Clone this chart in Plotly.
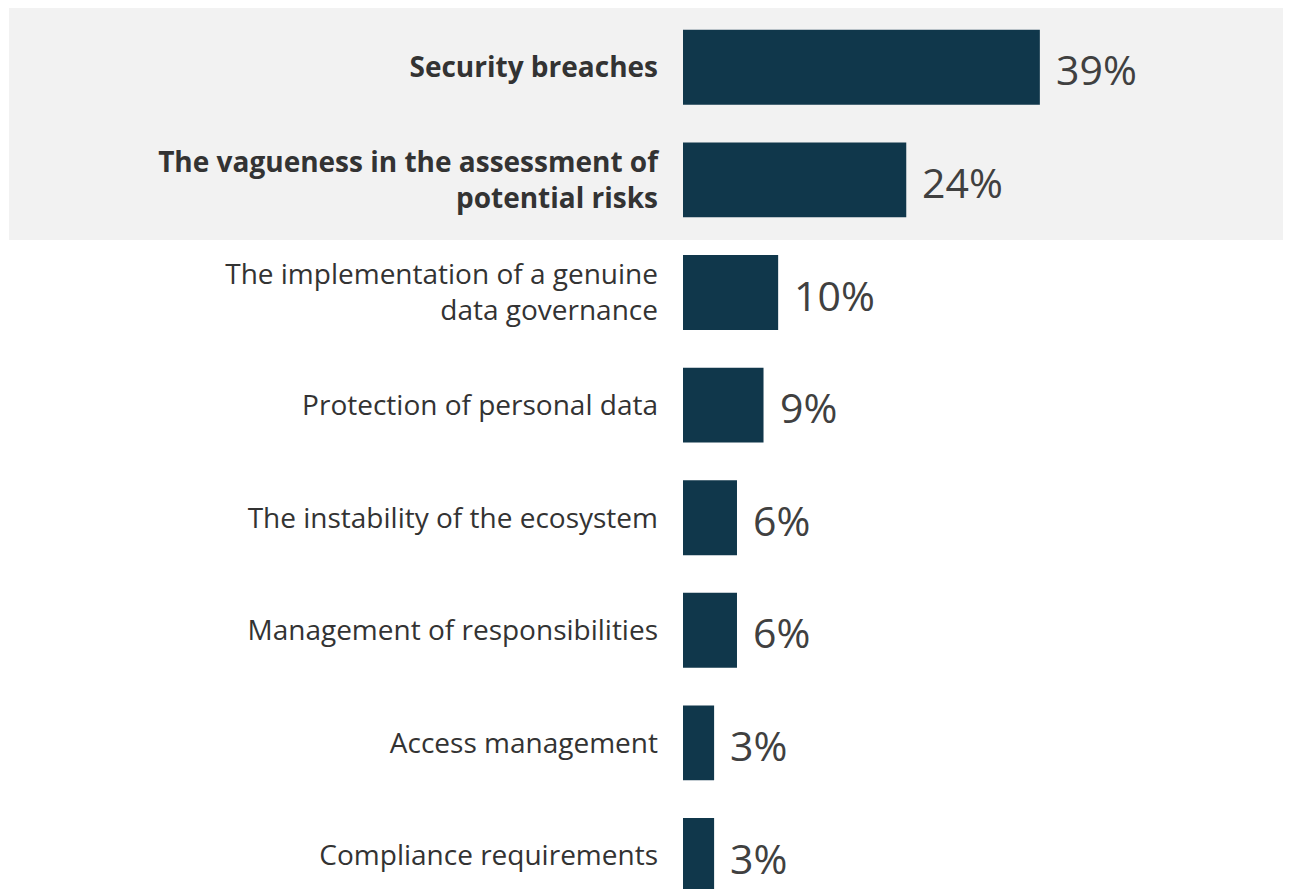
import plotly.graph_objects as go

categories = [
    "Security breaches",
    "The vagueness in the assessment of<br>potential risks",
    "The implementation of a genuine<br>data governance",
    "Protection of personal data",
    "The instability of the ecosystem",
    "Management of responsibilities",
    "Access management",
    "Compliance requirements",
]
# bar lengths (labels show the rounded share)
values = [39.0, 24.4, 10.4, 8.8, 5.9, 5.9, 3.4, 3.4]
value_labels = ["39%", "24%", "10%", "9%", "6%", "6%", "3%", "3%"]
highlighted = [True, True, False, False, False, False, False, False]

tick_text = [f"<b>{c}</b>" if h else c for c, h in zip(categories, highlighted)]
ypos = list(range(len(categories)))

BAR = "#10374b"
# page body has an 8px margin, so the figure is sized to fit the window
W, H = 1283, 881
ML, MT, MB, MR = 675, 3, 0, 0
plot_w = W - ML - MR
plot_h = H - MT - MB
px_per_pct = 9.15
xmax = plot_w / px_per_pct
unit_px = 112.6
y_bottom = -0.5 + plot_h / unit_px

fig = go.Figure()
fig.add_trace(go.Bar(
    x=values, y=ypos, orientation="h",
    marker=dict(color=BAR, line=dict(width=0)),
    width=0.665,
    hoverinfo="skip",
))

for v, y, t in zip(values, ypos, value_labels):
    fig.add_annotation(x=v, y=y, text=t, showarrow=False, xanchor="left",
                       yanchor="middle", xshift=14, yshift=-2,
                       font=dict(family="Open Sans", size=41, color="#404040"))

# highlight band behind top two rows (pixel-based paper coords)
fig.add_shape(type="rect", xref="paper", yref="paper",
              x0=(1 - ML) / plot_w, x1=(W + 20 - ML) / plot_w,
              y0=1 - (232 - MT) / plot_h, y1=1 + MT / plot_h,
              fillcolor="#f2f2f2", line=dict(width=0), layer="below")

fig.update_layout(
    width=W, height=H,
    margin=dict(l=ML, r=MR, t=MT, b=MB, pad=0),
    paper_bgcolor="white", plot_bgcolor="rgba(0,0,0,0)",
    showlegend=False,
    font=dict(family="Open Sans", color="#333333"),
    xaxis=dict(range=[0, xmax], visible=False, fixedrange=True),
    yaxis=dict(range=[y_bottom, -0.5], tickmode="array", tickvals=ypos,
               ticktext=tick_text, showgrid=False, zeroline=False,
               showline=False, ticks="", ticklabelstandoff=24,
               tickfont=dict(family="Open Sans", size=28, color="#333333")),
)

fig.write_html("out.html")
